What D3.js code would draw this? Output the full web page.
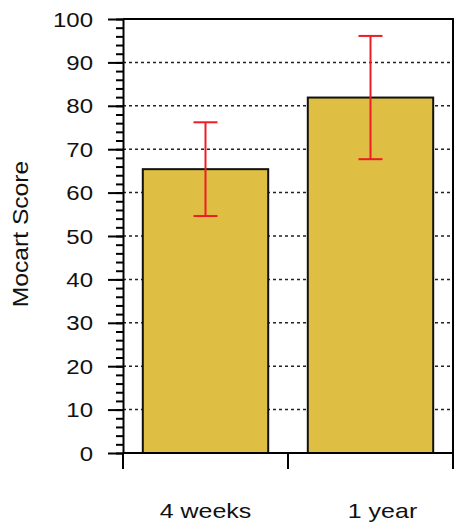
<!DOCTYPE html>
<html>
<head>
<meta charset="utf-8">
<script src="https://cdn.jsdelivr.net/npm/d3@7"></script>
<style>
  body { margin: 0; background: #fff; }
  text { font-family: Arial, "Liberation Sans", sans-serif; fill: #111; }
</style>
</head>
<body>
<div id="chart"></div>
<script>
// chart data
const categories = ['4 weeks', '1 year'];
const means = [65.4, 81.9];
const errors = [10.8, 14.2];
const yTicks = [0, 10, 20, 30, 40, 50, 60, 70, 80, 90, 100];
const yLabel = 'Mocart Score';

const width = 474, height = 530;
const margin = {top: 19, right: 21, bottom: 77, left: 123};
const innerW = width - margin.left - margin.right;
const innerH = height - margin.top - margin.bottom;

let svg = d3.select('#chart').append('svg')
    .attr('width', width)
    .attr('height', height);
let g = svg.append('g')
    .attr('transform', `translate(${margin.left},${margin.top})`);

let x = d3.scaleBand()
    .domain(categories)
    .range([0, innerW])
    .paddingInner(0.24)
    .paddingOuter(0.12);
let y = d3.scaleLinear().domain([0, 100]).range([innerH, 0]);

// dotted grid lines
g.append('g')
    .selectAll('line')
    .data(yTicks.filter(d => d > 0 && d < 100))
    .join('line')
    .attr('x1', 0).attr('x2', innerW)
    .attr('y1', d => y(d)).attr('y2', d => y(d))
    .attr('stroke', '#222')
    .attr('stroke-width', 1.5)
    .attr('stroke-dasharray', '3,3');

// bars
g.append('g')
    .selectAll('rect')
    .data(categories)
    .join('rect')
    .attr('x', d => x(d))
    .attr('width', x.bandwidth())
    .attr('y', (d, i) => y(means[i]))
    .attr('height', (d, i) => y(0) - y(means[i]))
    .attr('fill', '#dfbe44')
    .attr('stroke', '#111')
    .attr('stroke-width', 2);

// error bars
let err = g.append('g').attr('stroke', '#ee1c24').attr('stroke-width', 2);
categories.forEach((c, i) => {
    let cx = x(c) + x.bandwidth() / 2;
    let hi = y(means[i] + errors[i]), lo = y(means[i] - errors[i]);
    err.append('line').attr('x1', cx).attr('x2', cx).attr('y1', hi).attr('y2', lo);
    err.append('line').attr('x1', cx - 12).attr('x2', cx + 12).attr('y1', hi).attr('y2', hi);
    err.append('line').attr('x1', cx - 12).attr('x2', cx + 12).attr('y1', lo).attr('y2', lo);
});

// frame top and right
g.append('path')
    .attr('d', `M0,0H${innerW}V${innerH}`)
    .attr('fill', 'none')
    .attr('stroke', '#000')
    .attr('stroke-width', 2);

// y axis, minor ticks first
g.append('g')
    .call(d3.axisLeft(y).tickValues(d3.range(0, 101, 2)).tickSize(7).tickFormat(''))
    .call(a => a.select('.domain').remove())
    .selectAll('line').attr('stroke-width', 2);

let yAxis = g.append('g')
    .call(d3.axisLeft(y).tickValues(yTicks).tickSize(15).tickSizeOuter(0));
yAxis.select('.domain').attr('stroke-width', 2);
yAxis.selectAll('line').attr('stroke-width', 2);
// the original type is a bit wide, so stretch it
yAxis.selectAll('text')
    .attr('x', 0)
    .attr('dy', '0.36em')
    .attr('transform', 'translate(-30,0) scale(1.23,1)')
    .attr('fill', '#111')
    .style('font-size', '19.5px');

// x axis with ticks at category boundaries
let xAxis = g.append('g').attr('transform', `translate(0,${innerH})`);
xAxis.append('line')
    .attr('x1', 0).attr('x2', innerW)
    .attr('stroke', '#000').attr('stroke-width', 2);
let bounds = [0, (x(categories[0]) + x.bandwidth() + x(categories[1])) / 2, innerW];
xAxis.selectAll('.xt')
    .data(bounds)
    .join('line')
    .attr('x1', d => d).attr('x2', d => d)
    .attr('y1', 0).attr('y2', 16)
    .attr('stroke', '#000').attr('stroke-width', 2);
const labelShift = [0, 12];
xAxis.selectAll('text')
    .data(categories)
    .join('text')
    .attr('transform', (d, i) =>
        `translate(${x(d) + x.bandwidth() / 2 + labelShift[i]},65) scale(1.19,1)`)
    .attr('text-anchor', 'middle')
    .style('font-size', '21px')
    .text(d => d);

// y label
svg.append('text')
    .attr('transform', `translate(28,${margin.top + innerH / 2 - 2}) scale(1,1.12) rotate(-90)`)
    .attr('text-anchor', 'middle')
    .style('font-size', '22px')
    .text(yLabel);
</script>
</body>
</html>
